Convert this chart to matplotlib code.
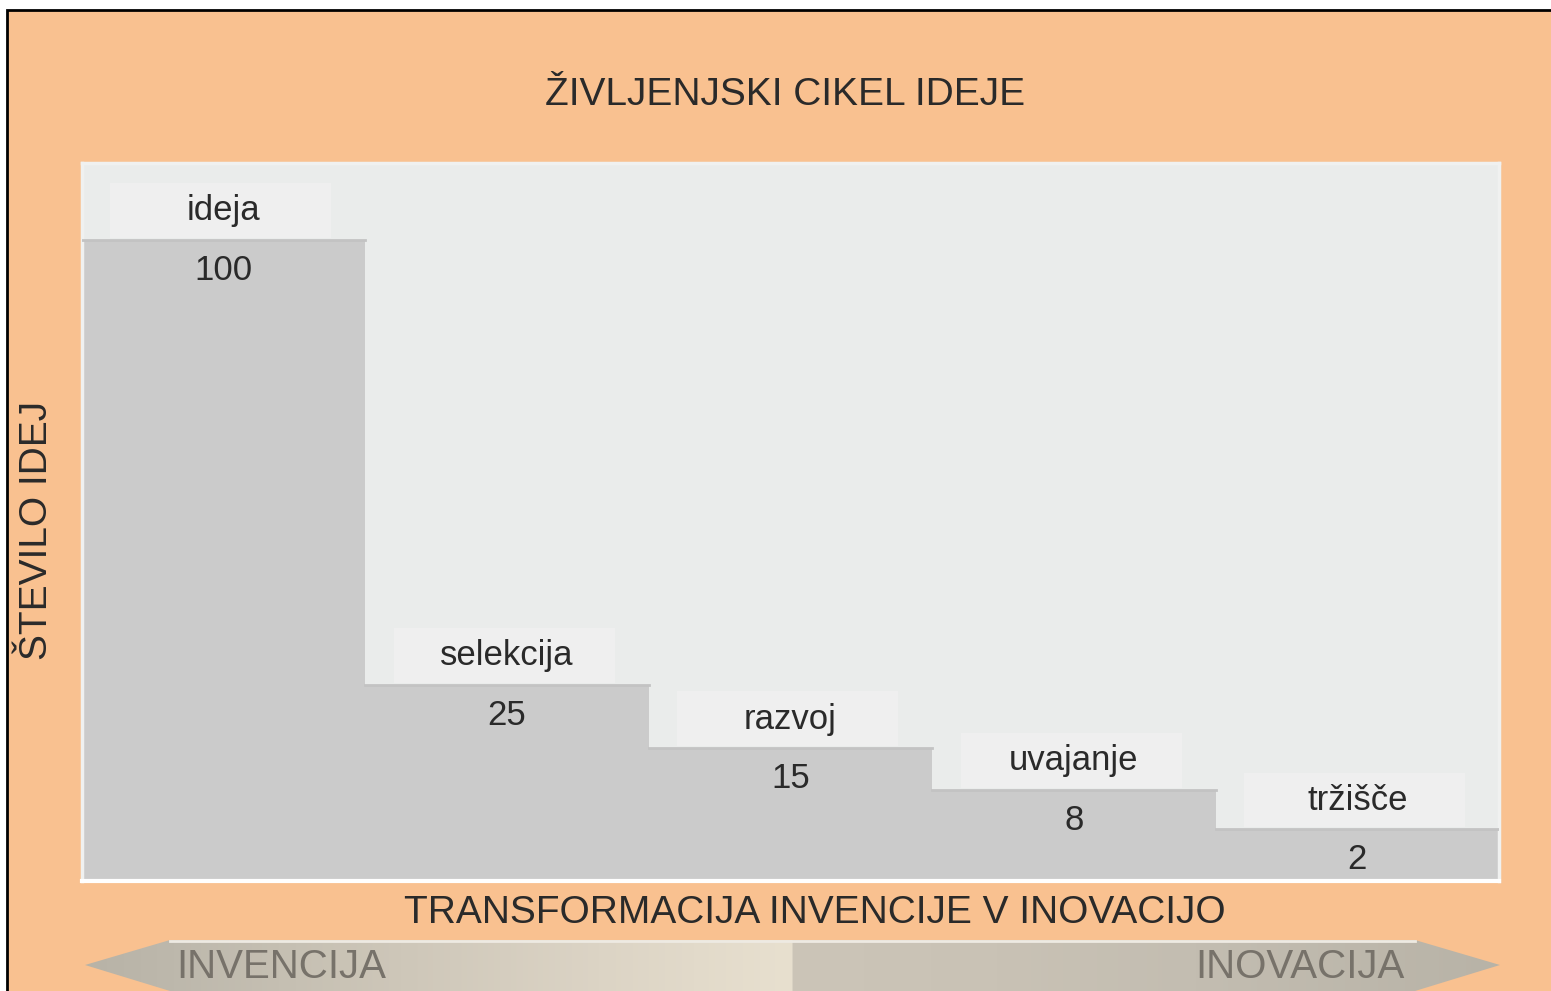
import numpy as np
import matplotlib
matplotlib.use('Agg')
import matplotlib.pyplot as plt
from matplotlib.patches import Rectangle, Polygon
from matplotlib.colors import LinearSegmentedColormap

plt.rcParams['font.family'] = ['Liberation Sans', 'DejaVu Sans']

# data
stages = ['ideja', 'selekcija', 'razvoj', 'uvajanje', 'tržišče']
counts = [100, 25, 15, 8, 2]
# drawn step heights (the picture does not draw them to scale), 0-100 axis
step_heights = [89.3, 27.3, 18.5, 12.7, 7.2]

title = 'ŽIVLJENJSKI CIKEL IDEJE'
ylabel = 'ŠTEVILO IDEJ'
xlabel = 'TRANSFORMACIJA INVENCIJE V INOVACIJO'
arrow_left = 'INVENCIJA'
arrow_right = 'INOVACIJA'

W, H = 1551, 991
orange = '#F9C190'
text_col = '#2a2a2a'

fig = plt.figure(figsize=(W / 100, H / 100), dpi=100, facecolor='white')

def fx(x):
    return x / W

def fy(y):
    return 1 - y / H

# orange panel with black frame on top/left
fig.patches.append(Rectangle((fx(7), fy(H + 20)), fx(W + 20 - 7), (H + 10) / H,
                             transform=fig.transFigure, facecolor=orange,
                             edgecolor='black', linewidth=2, zorder=-10))

# main chart
ax = fig.add_axes([fx(82), fy(881), fx(1499 - 82), (881 - 163) / H])
ax.set_facecolor('#EAECEB')
x = np.arange(len(stages))
ax.bar(x, step_heights, width=1, align='edge', color='#CBCBCB',
       edgecolor='none', zorder=2)
ax.set_xlim(0, len(stages))
ax.set_ylim(0, 100)
ax.set_xticks([])
ax.set_yticks([])
for side in ['top', 'left', 'right']:
    ax.spines[side].set_color('#F0F1F0')
    ax.spines[side].set_linewidth(2.5)
ax.spines['bottom'].set_color('white')
ax.spines['bottom'].set_linewidth(3)

for i, (name, cnt, h) in enumerate(zip(stages, counts, step_heights)):
    # thin darker rim on the step top
    ax.plot([i, i + 1], [h, h], color='#C3C3C3', linewidth=2, zorder=3)
    # light label box sitting on the step
    ax.add_patch(Rectangle((i + 0.1, h + 0.3), 0.78, 7.6, facecolor='#EFEFEF',
                           edgecolor='none', zorder=1.5))
    ax.annotate(name, (i + 0.5, h), xytext=(0, 21), textcoords='offset points',
                ha='center', va='center', fontsize=25, color=text_col, zorder=4)
    ax.annotate(str(cnt), (i + 0.5, h), xytext=(0, -22), textcoords='offset points',
                ha='center', va='center', fontsize=25, color=text_col, zorder=4)

fig.text(fx(785), fy(95), title, ha='center', va='center', fontsize=28,
         color=text_col)
fig.text(fx(37), fy(530), ylabel, ha='center', va='center', fontsize=28,
         rotation=90, color=text_col)
fig.text(fx(815), fy(913), xlabel, ha='center', va='center', fontsize=28,
         color=text_col)

# bottom double arrow with gradient
ov = fig.add_axes([0, 0, 1, 1], facecolor='none')
ov.set_xlim(0, W)
ov.set_ylim(H, 0)
ov.axis('off')
stops = [(85, '#B8B3A7'), (170, '#BDB8AC'), (400, '#CEC7B9'), (600, '#DCD4C5'),
         (790, '#E8E0CF'), (794, '#CCC5B8'), (1000, '#C9C2B5'),
         (1200, '#C3BDB1'), (1500, '#B8B3A7')]
cmap = LinearSegmentedColormap.from_list(
    'arrow', [((p - 85) / (1500 - 85), c) for p, c in stops])
grad = np.linspace(0, 1, 1000)[None, :]
img = ov.imshow(grad, cmap=cmap, aspect='auto', extent=(85, 1500, 1000, 940),
                zorder=1)
arrow = Polygon([(85, 965), (170, 940), (1415, 940), (1500, 965), (1415, 991),
                 (170, 991)], closed=True, facecolor='none', edgecolor='none')
ov.add_patch(arrow)
img.set_clip_path(arrow)
ov.plot([170, 1415], [941, 941], color='#EEEAE2', linewidth=2, zorder=2)
ov.text(281, 967, arrow_left, ha='center', va='center', fontsize=29,
        color='#77726A', zorder=3)
ov.text(1300, 967, arrow_right, ha='center', va='center', fontsize=29,
        color='#77726A', zorder=3)

fig.savefig('out.png', dpi=100, facecolor=fig.get_facecolor())
